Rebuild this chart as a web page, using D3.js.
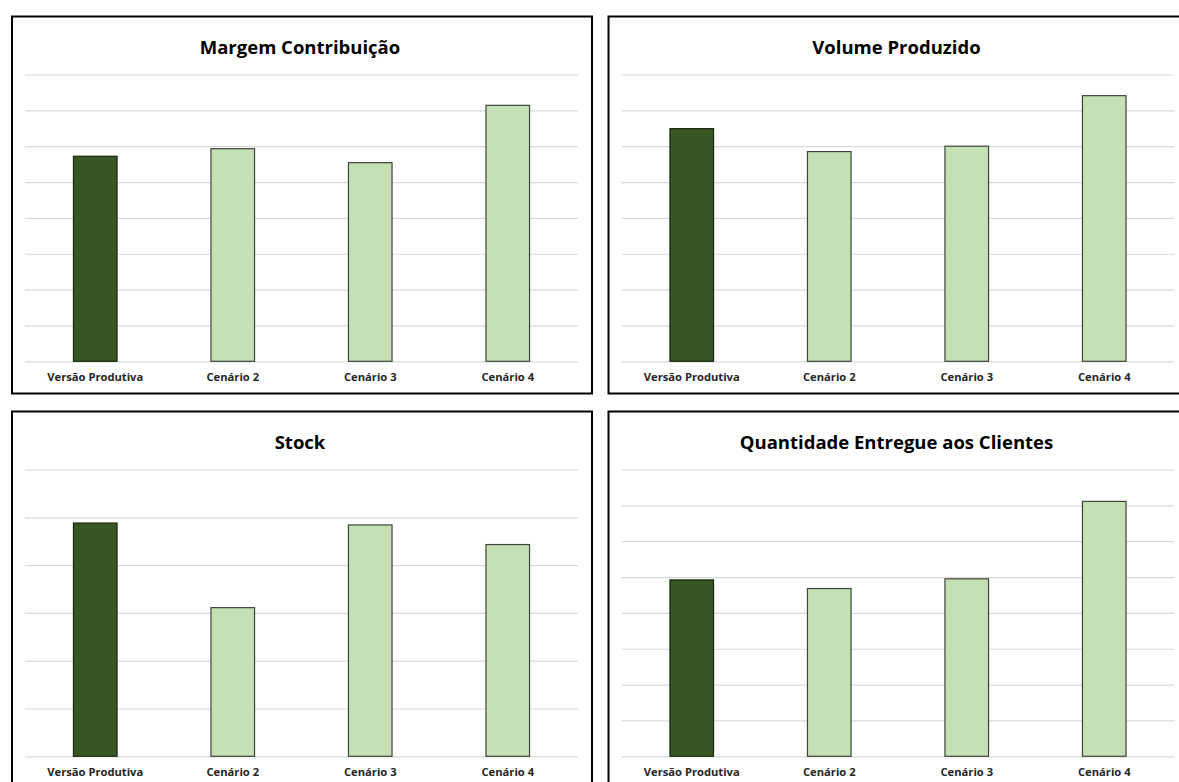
<!DOCTYPE html>
<html>
<head>
<meta charset="utf-8">
<script src="https://cdn.jsdelivr.net/npm/d3@7"></script>
<style>
  html, body { margin: 0; padding: 0; background: #fff; }
  svg { display: block; }
  .title { font-family: "Open Sans", "Noto Sans", sans-serif; font-weight: 700; fill: #000; }
  .cat { font-family: "Open Sans", "Noto Sans", sans-serif; font-weight: 700; fill: #262626; }
</style>
</head>
<body>
<svg id="chart" width="1179" height="782"></svg>
<script>
// Categories shared by all four panels
const categories = ["Versão Produtiva", "Cenário 2", "Cenário 3", "Cenário 4"];

// Series values (relative units, one per category)
const margemContribuicao = [5.72, 5.93, 5.54, 7.14];
const volumeProduzido    = [6.49, 5.85, 6.00, 7.41];
const stock              = [4.88, 3.11, 4.84, 4.43];
const quantidadeEntregue = [4.92, 4.68, 4.95, 7.11];

// Panel titles
const titles = ["Margem Contribuição", "Volume Produzido", "Stock", "Quantidade Entregue aos Clientes"];

// Value-axis maxima (gridline count follows one line per unit)
const axisMax = [8, 8, 6, 8];

const seriesList = [margemContribuicao, volumeProduzido, stock, quantidadeEntregue];

const svg = d3.select("#chart");

const panelW = 580, panelH = 377;
const panelOrigins = [[12, 16.5], [608.5, 16.5], [12, 411.5], [608.5, 411.5]];

const colorBase = "#375623";
const colorScen = "#c5e0b4";

seriesList.forEach((values, i) => {
  const [px, py] = panelOrigins[i];
  const g = svg.append("g").attr("transform", `translate(${px},${py})`);

  // Plot area inside panel
  const plotLeft = 13, plotRight = 566, plotTop = 58, plotBottom = 344.8;

  const x = d3.scaleBand()
    .domain(categories)
    .range([plotLeft + 1.5, plotRight - 1.5])
    .paddingInner(0.683)
    .paddingOuter(0.3415);

  const y = d3.scaleLinear()
    .domain([0, axisMax[i]])
    .range([plotBottom, plotTop]);

  // Horizontal gridlines
  const yAxis = d3.axisLeft(y)
    .ticks(axisMax[i])
    .tickSize(-(plotRight - plotLeft))
    .tickFormat("");
  const ga = g.append("g")
    .attr("transform", `translate(${plotLeft},0)`)
    .call(yAxis);
  ga.select(".domain").remove();
  ga.selectAll(".tick line").attr("stroke", "#d9d9d9").attr("stroke-width", 1.2);

  // Bars
  g.selectAll("rect.bar")
    .data(values)
    .join("rect")
    .attr("class", "bar")
    .attr("x", (d, j) => x(categories[j]))
    .attr("width", x.bandwidth())
    .attr("y", d => y(d))
    .attr("height", d => y(0) - y(d))
    .attr("fill", (d, j) => j === 0 ? colorBase : colorScen)
    .attr("stroke", (d, j) => j === 0 ? "#1a2811" : "#3f443c")
    .attr("stroke-width", 1.2);

  // Category labels
  const xAxis = d3.axisBottom(x).tickSize(0).tickPadding(0);
  const gx = g.append("g")
    .attr("transform", `translate(0,${plotBottom})`)
    .call(xAxis);
  gx.select(".domain").remove();
  gx.selectAll(".tick text")
    .attr("class", "cat")
    .attr("y", 20)
    .attr("dy", 0)
    .attr("font-size", 11.2)
    .attr("fill", "#262626");

  // Title
  g.append("text")
    .attr("class", "title")
    .attr("x", 288)
    .attr("y", 37)
    .attr("text-anchor", "middle")
    .attr("font-size", 18.5)
    .text(titles[i]);

  // Panel border
  g.append("rect")
    .attr("width", panelW)
    .attr("height", panelH)
    .attr("fill", "none")
    .attr("stroke", "#000")
    .attr("stroke-width", 2);
});
</script>
</body>
</html>
